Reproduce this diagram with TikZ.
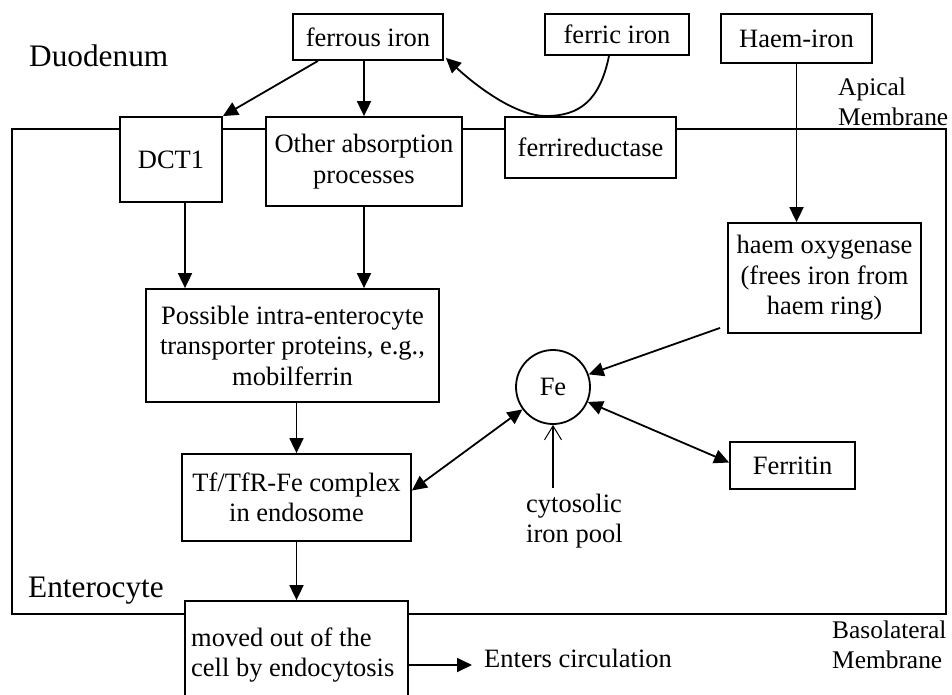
\documentclass[tikz,border=0pt]{standalone}
\usepackage{fontspec}
\setmainfont{Liberation Serif}
\usetikzlibrary{arrows.meta}
\tikzset{
  lw/.style={line width=1.8pt},
  boxo/.style={draw, lw, fill=white, inner sep=0pt, align=center,
    font=\fontsize{26.5}{30.5}\selectfont},
  arr/.style={lw, -{Triangle[length=15pt,width=14pt]}},
  darr/.style={lw, {Triangle[length=15pt,width=14pt]}-{Triangle[length=15pt,width=14pt]}},
  oarr/.style={lw, -{Straight Barb[length=14pt,width=17pt,line width=1pt]}},
  lbl/.style={inner sep=0pt, align=left, font=\fontsize{26.5}{30.5}\selectfont},
  biglbl/.style={inner sep=0pt, font=\fontsize{31.3}{36}\selectfont},
  memlbl/.style={inner sep=0pt, align=left, font=\fontsize{25.4}{29.5}\selectfont}
}
\begin{document}
\begin{tikzpicture}[x=1pt,y=-1pt]
\useasboundingbox (0,0) rectangle (952,694);
\fill[white] (0,0) rectangle (952,694);
\clip (0,0) rectangle (952,694);

% cell outline
\node[draw, lw, inner sep=0pt, minimum width=934pt, minimum height=485pt] (cell) at (479,371.5) {};

% boxes
\node[boxo, minimum width=150pt, minimum height=46pt] (ferrous) at (368,37) {ferrous iron};
\node[boxo, minimum width=144pt, minimum height=41pt] (ferric) at (617,34.5) {ferric iron};
\node[boxo, minimum width=151pt, minimum height=49pt] (haem) at (796.5,38.5) {Haem-iron};
\node[boxo, minimum width=102pt, minimum height=85pt] (dct) at (171,159.5) {DCT1};
\node[boxo, minimum width=196pt, minimum height=89pt] (other) at (364,161.5) {Other absorption\\processes};
\node[boxo, minimum width=171pt, minimum height=61pt] (ferrired) at (590.5,147.5) {ferrireductase};
\node[boxo, minimum width=193pt, minimum height=110pt] (hox) at (824.5,278) {haem oxygenase\\(frees iron from\\haem ring)};
\node[boxo, minimum width=293pt, minimum height=113pt] (poss) at (292.5,345.5) {Possible intra-enterocyte\\transporter proteins, e.g.,\\mobilferrin};
\node[boxo, circle, minimum size=74pt] (fe) at (553,387) {Fe};
\node[boxo, minimum width=125pt, minimum height=47pt] (ferritin) at (792.5,465.5) {Ferritin};
\node[boxo, minimum width=229pt, minimum height=87pt] (tf) at (296.5,497.5) {Tf/TfR-Fe complex\\in endosome};
\node[boxo, minimum width=223pt, minimum height=109pt] (moved) at (296.5,655.5) {};
\node[lbl, anchor=west] (movedtext) at (191,655) {moved out of the\\cell by endocytosis};

% labels
\node[biglbl, anchor=base west] (duo) at (29,66) {Duodenum};
\node[biglbl, anchor=base west] (ent) at (28,597) {Enterocyte};
\node[memlbl, anchor=west] (apical) at (838,102) {Apical\\Membrane};
\node[memlbl, anchor=west] (baso) at (832,645) {Basolateral\\Membrane};
\node[lbl, anchor=west] (cyto) at (526,521) {cytosolic\\iron pool};
\node[lbl, anchor=base west] (enters) at (484,667) {Enters circulation};
\coordinate (cytoend) at (553,488);

% connectors
\draw[arr] ([xshift=-50pt]ferrous.south) -- (dct.north east);
\draw[arr] (other.north |- ferrous.south) -- (other.north);
\draw[arr] ([xshift=-8pt]ferric.south) .. controls (600,100) and (580,116) .. (546,116)
  .. controls (515,116) and (475,85) .. ([xshift=2pt,yshift=3pt]ferrous.south east);
\draw[arr] (haem.south) -- (haem.south |- hox.north);
\draw[arr] ([xshift=14pt]dct.south) -- ([xshift=14pt]dct.south |- poss.north);
\draw[arr] (other.south) -- (other.south |- poss.north);
\draw[arr] (tf.north |- poss.south) -- (tf.north);
\draw[arr] ([xshift=-7pt,yshift=6pt]hox.south west) -- (fe);
\draw[darr] ([yshift=7pt]tf.east) -- (fe);
\draw[darr] (fe) -- ([yshift=3pt]ferritin.west);
\draw[oarr] (cytoend) -- (fe.south);
\draw[arr] (tf.south) -- (moved.north);
\draw[arr] (moved.east |- 0,665) -- (472,665);
\end{tikzpicture}
\end{document}
